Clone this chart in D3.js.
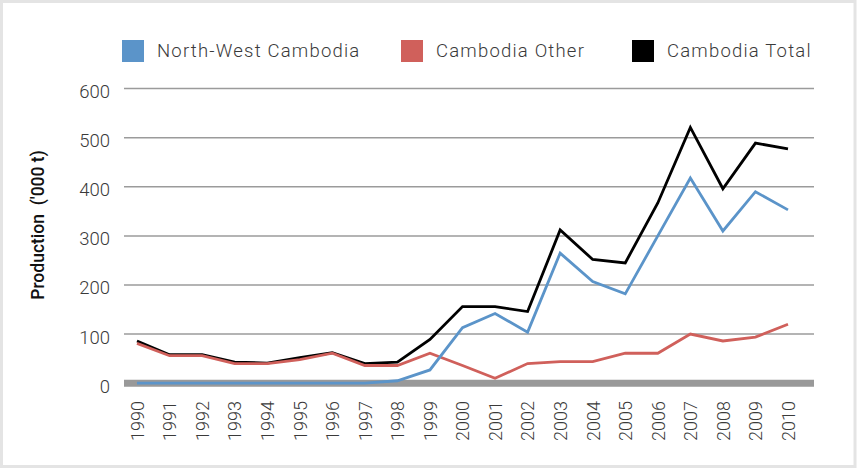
<!DOCTYPE html>
<html>
<head>
<meta charset="utf-8">
<script src="https://cdn.jsdelivr.net/npm/d3@7"></script>
<style>
  html, body { margin: 0; padding: 0; background: #fff; }
  svg { display: block; }
  text { font-family: Roboto, "Open Sans", sans-serif; }
</style>
</head>
<body>
<svg id="chart" width="857" height="469"></svg>
<script>
// Production by year, thousand tonnes
const years = [1990, 1991, 1992, 1993, 1994, 1995, 1996, 1997, 1998, 1999, 2000,
               2001, 2002, 2003, 2004, 2005, 2006, 2007, 2008, 2009, 2010];
const northWest = [0, 0, 0, 0, 0, 0, 0, 0, 5, 27, 113, 142, 104, 265, 207, 182, 300, 418, 310, 390, 353];
const other     = [81, 56, 56, 40, 40, 48, 61, 36, 36, 61, 36, 10, 40, 44, 44, 61, 61, 100, 86, 94, 120];
const total     = [86, 58, 58, 43, 41, 52, 62, 40, 43, 89, 156, 156, 146, 312, 252, 245, 367, 521, 396, 489, 477];
const yTicks = [0, 100, 200, 300, 400, 500, 600];
const seriesNames = ["North-West Cambodia", "Cambodia Other", "Cambodia Total"];
const seriesColors = ["#5b94c9", "#d0605b", "#000000"];

const svg = d3.select("#chart");

// outer frame
svg.append("rect")
  .attr("x", 1.5).attr("y", 1.5)
  .attr("width", 853.5).attr("height", 465)
  .attr("fill", "none").attr("stroke", "#e4e4e4").attr("stroke-width", 3);

const plotLeft = 124, plotRight = 814;
const x = d3.scalePoint().domain(years).range([137, 788]);
const y = d3.scaleLinear().domain([0, 600]).range([383.2, 88.6]);

// horizontal gridlines
svg.append("g").selectAll("line")
  .data(yTicks.filter(d => d > 0))
  .join("line")
  .attr("x1", plotLeft).attr("x2", plotRight)
  .attr("y1", d => y(d)).attr("y2", d => y(d))
  .attr("stroke", "#9b9b9b").attr("stroke-width", 1.5);

// baseline band
svg.append("line")
  .attr("x1", plotLeft).attr("x2", plotRight)
  .attr("y1", y(0)).attr("y2", y(0))
  .attr("stroke", "#999999").attr("stroke-width", 7);

// y axis labels
const yAxis = d3.axisLeft(y).tickValues(yTicks).tickSize(0).tickPadding(0).tickFormat(d3.format("d"));
const gy = svg.append("g").attr("transform", "translate(110,3)").call(yAxis);
gy.select(".domain").remove();
gy.selectAll("text")
  .attr("font-size", "18.5px").attr("font-weight", 300)
  .attr("fill", "#3a3a3a").attr("font-family", "Roboto, sans-serif");

// x axis labels (rotated)
const xAxis = d3.axisBottom(x).tickSize(0).tickPadding(0).tickFormat(d3.format("d"));
const gx = svg.append("g").attr("transform", "translate(0,401)").call(xAxis);
gx.select(".domain").remove();
gx.selectAll("text")
  .attr("font-size", "18px").attr("font-weight", 300)
  .attr("fill", "#3a3a3a").attr("font-family", "Roboto, sans-serif")
  .attr("text-anchor", "end")
  .attr("dy", "0.35em").attr("y", 0).attr("x", 0)
  .attr("transform", "rotate(-90)");

// y axis title
svg.append("text")
  .attr("transform", "translate(44,225) rotate(-90)")
  .attr("text-anchor", "middle")
  .attr("font-size", "17.5px").attr("font-weight", 500)
  .attr("fill", "#111")
  .style("white-space", "pre")
  .text("Production  ('000 t)");

// series lines
const line = d3.line().x((d, i) => x(years[i])).y(d => y(d));
const seriesData = [northWest, other, total];
[2, 1, 0].forEach(k => {
  svg.append("path")
    .datum(seriesData[k])
    .attr("d", line)
    .attr("fill", "none")
    .attr("stroke", seriesColors[k])
    .attr("stroke-width", 2.8)
    .attr("stroke-linejoin", "miter");
});

// legend
const legendX = [122, 401, 632];
const legend = svg.append("g").selectAll("g")
  .data(seriesNames)
  .join("g")
  .attr("transform", (d, i) => `translate(${legendX[i]},40)`);
legend.append("rect")
  .attr("width", 22).attr("height", 22)
  .attr("fill", (d, i) => seriesColors[i]);
legend.append("text")
  .attr("x", 35).attr("y", 11).attr("dy", "0.35em")
  .attr("font-size", "18.5px").attr("font-weight", 300)
  .attr("letter-spacing", "1.2px")
  .attr("fill", "#3a3a3a")
  .text(d => d);
</script>
</body>
</html>
